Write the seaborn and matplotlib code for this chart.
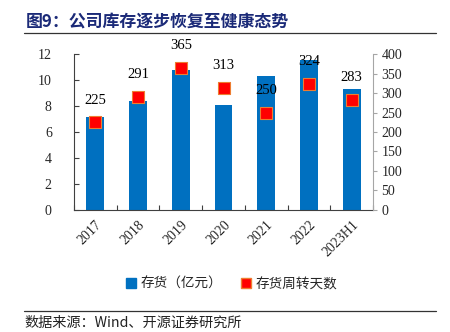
import matplotlib
matplotlib.use("Agg")
import matplotlib.pyplot as plt
import seaborn as sns
import pandas as pd
import numpy as np
from matplotlib.ticker import MultipleLocator, FixedLocator

# Data
periods = ["2017", "2018", "2019", "2020", "2021", "2022", "2023H1"]
inventory = [7.15, 8.40, 10.80, 8.08, 10.33, 11.54, 9.28]        # 存货（亿元）
turnover_days = [225, 291, 365, 313, 250, 324, 283]               # 存货周转天数

title_text = "图9：公司库存逐步恢复至健康态势"
source_text = "数据来源：Wind、开源证券研究所"
legend_labels = ["存货（亿元）", "存货周转天数"]

BLUE = "#0070C0"
RED = "#FF0000"
EDGE = "#ED7D31"
NAVY = "#1B2A78"

sns.set_theme(style="white")
plt.rcParams["font.family"] = ["Liberation Serif", "Noto Sans CJK SC", "DejaVu Sans"]
cjk = ["Noto Sans CJK SC", "DejaVu Sans"]

df = pd.DataFrame({"period": periods, "inventory": inventory, "days": turnover_days})
df["pos"] = np.arange(len(periods))

fig = plt.figure(figsize=(4.5, 3.32), dpi=100)
ax = fig.add_axes([0.1644, 0.3675, 0.8290 - 0.1644, 0.8373 - 0.3675])

sns.barplot(data=df, x="period", y="inventory", color=BLUE, width=0.42,
            saturation=1, ax=ax, edgecolor=BLUE, linewidth=0)
ax.set_xlim(-0.5, len(periods) - 0.5)
ax.set_ylim(0, 12)
ax.yaxis.set_major_locator(MultipleLocator(2))

ax2 = ax.twinx()
sns.scatterplot(data=df, x="pos", y="days", marker="s", s=85, color=RED,
                edgecolor=EDGE, linewidth=0.8, ax=ax2, zorder=5)
ax2.set_ylim(0, 400)
ax2.yaxis.set_major_locator(MultipleLocator(50))
ax2.set_xlim(-0.5, len(periods) - 0.5)

for x, v in zip(df["pos"], turnover_days):
    ax2.annotate(f"{v}", (x, v), xytext=(0, 16), textcoords="offset points",
                 ha="center", va="center", fontsize=10.5, color="black",
                 family="Liberation Serif")

# axes styling
for a in (ax, ax2):
    a.set_xlabel("")
    a.set_ylabel("")
    a.spines["top"].set_visible(False)
ax.spines["left"].set_color("#404040")
ax.spines["bottom"].set_color("#404040")
ax.spines["right"].set_visible(False)
ax2.spines["left"].set_visible(False)
ax2.spines["bottom"].set_visible(False)
ax2.spines["right"].set_color("#A6A6A6")
for s in ("left", "bottom"):
    ax.spines[s].set_linewidth(0.8)
ax2.spines["right"].set_linewidth(0.8)

ax.set_xticks(np.arange(len(periods)))
ax.set_xticklabels(periods, rotation=45, ha="right", rotation_mode="anchor",
                   fontsize=10, family="Liberation Serif")
ax.xaxis.set_minor_locator(FixedLocator(np.arange(-0.5, len(periods), 1.0)))
ax.tick_params(axis="x", which="major", length=0, pad=6)
ax.tick_params(axis="x", which="minor", direction="in", length=3.5,
               color="#404040", width=0.8, bottom=True)
ax.tick_params(axis="y", direction="in", length=3.5, color="#404040",
               width=0.8, labelsize=10, pad=16, left=True)
for t in ax.get_yticklabels():
    t.set_family("Liberation Serif")
    t.set_horizontalalignment("right")
ax2.tick_params(axis="y", direction="out", length=3, color="#A6A6A6",
                width=0.8, labelsize=10, pad=3, right=True)
for t in ax2.get_yticklabels():
    t.set_family("Liberation Serif")
ax2.tick_params(axis="x", bottom=False, labelbottom=False)

# title and rules
fig.text(26 / 450, 1 - 22 / 332, title_text, fontsize=12.2, fontweight="bold",
         color=NAVY, family=cjk, ha="left", va="center")
fig.add_artist(plt.Line2D([24 / 450, 436 / 450], [1 - 33 / 332, 1 - 33 / 332],
                          color="#333333", lw=0.9))
fig.add_artist(plt.Line2D([24 / 450, 436 / 450], [1 - 311 / 332, 1 - 311 / 332],
                          color="#333333", lw=0.9))
fig.text(24 / 450, 1 - 323 / 332, source_text, fontsize=10.2, color="#222222",
         family=cjk, ha="left", va="center")

# legend
handles = [plt.Line2D([], [], marker="s", ls="", color=BLUE, markersize=6.5),
           plt.Line2D([], [], marker="s", ls="", color=RED, markeredgecolor=EDGE,
                      markersize=6.5)]
leg = fig.legend(handles, legend_labels, loc="center", bbox_to_anchor=(0.515, 1 - 284 / 332),
                 ncol=2, frameon=False, handlelength=0.8, handletextpad=0.3,
                 columnspacing=1.35, prop={"family": cjk, "size": 9.8})

fig.savefig("out.png", dpi=100)
